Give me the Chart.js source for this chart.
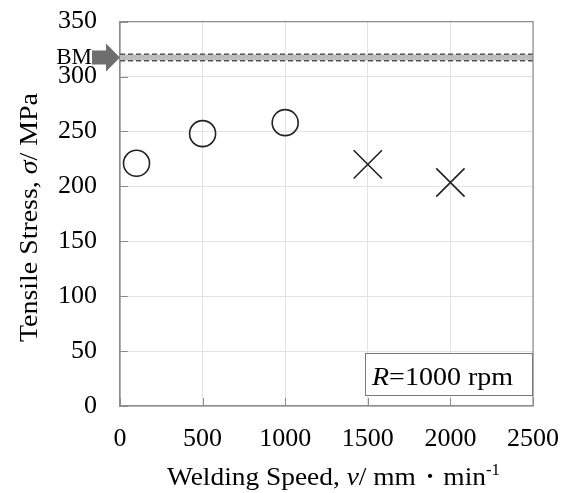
<!DOCTYPE html>
<html>
<head>
<meta charset="utf-8">
<script src="https://cdn.jsdelivr.net/npm/chart.js@4.4.1/dist/chart.umd.min.js"></script>
<style>
html,body{margin:0;padding:0;background:#fff;}
#wrap{width:565px;height:493px;position:relative;}
</style>
</head>
<body>
<div id="wrap"><canvas id="c" width="565" height="493"></canvas></div>
<script>
// ---- data ----
const circleSpeeds = [100, 500, 1000];
const circleStress = [221, 248, 258];
const crossSpeeds = [1500, 2000];
const crossStress = [220, 203.5];
const bmStress = 317.3;
const bmUpper = 320.3;
const bmLower = 314.3;
const xRange = [0, 2500];
const yRange = [0, 350];
const xStep = 500;
const yStep = 50;
const bmLabel = 'BM';
const noteLabel = ['R', '=1000 rpm'];
const yTitle = ['Tensile Stress, ', 'σ', '/ MPa'];
const xTitle = ['Welding Speed, ', 'v', '/ mm・min', '-1'];

const FONT = "'Liberation Serif', 'Times New Roman', serif";

function pts(xs, ys){ return xs.map((x,i)=>({x:x, y:ys[i]})); }
function hline(v){ return [{x:xRange[0], y:v},{x:xRange[1], y:v}]; }

// draw rich text segments [{t, f, dy}] starting at (0,0) in current transform, stretched to target width
function drawRich(ctx, segs, targetW){
  let w = 0;
  segs.forEach(s=>{ ctx.font = s.f; s.w = ctx.measureText(s.t).width; w += s.w; });
  const sx = targetW / w;
  ctx.save();
  ctx.scale(sx, 1);
  let x = 0;
  segs.forEach(s=>{ ctx.font = s.f; ctx.fillText(s.t, x, s.dy || 0); x += s.w; });
  ctx.restore();
}

const decor = {
  id: 'decor',
  afterDraw(chart){
    const ctx = chart.ctx;
    const a = chart.chartArea;
    const xs = chart.scales.x, ys = chart.scales.y;
    ctx.save();
    // top/right border
    ctx.strokeStyle = '#8c8c8c';
    ctx.lineWidth = 1.2;
    ctx.beginPath();
    ctx.moveTo(a.left, a.top); ctx.lineTo(a.right, a.top); ctx.lineTo(a.right, a.bottom);
    ctx.stroke();
    // inward tick marks
    ctx.lineWidth = 1;
    ys.ticks.forEach(t=>{
      const y = Math.round(ys.getPixelForValue(t.value))+0.5;
      ctx.beginPath(); ctx.moveTo(a.left, y); ctx.lineTo(a.left+8, y); ctx.stroke();
    });
    xs.ticks.forEach(t=>{
      const x = Math.round(xs.getPixelForValue(t.value))+0.5;
      ctx.beginPath(); ctx.moveTo(x, a.bottom); ctx.lineTo(x, a.bottom-8); ctx.stroke();
    });
    // BM arrow
    const by = ys.getPixelForValue(bmStress);
    ctx.fillStyle = '#6e6e6e';
    ctx.beginPath();
    ctx.moveTo(92, by-7); ctx.lineTo(106, by-7); ctx.lineTo(106, by-14);
    ctx.lineTo(a.left, by); ctx.lineTo(106, by+14); ctx.lineTo(106, by+7);
    ctx.lineTo(92, by+7); ctx.closePath(); ctx.fill();
    ctx.fillStyle = '#000';
    ctx.font = '23px ' + FONT;
    ctx.textAlign = 'right'; ctx.textBaseline = 'middle';
    ctx.fillText(bmLabel, 92, by);
    // note box
    const bx0 = 365, bx1 = a.right, by0 = 353, by1 = 395;
    ctx.fillStyle = '#fff';
    ctx.fillRect(bx0, by0, bx1-bx0, by1-by0);
    ctx.strokeStyle = '#777';
    ctx.lineWidth = 1;
    ctx.strokeRect(bx0+0.5, by0+0.5, bx1-bx0-1, by1-by0);
    ctx.fillStyle = '#000';
    ctx.textAlign = 'left'; ctx.textBaseline = 'alphabetic';
    ctx.save(); ctx.translate(372, 385);
    drawRich(ctx, [{t:noteLabel[0], f:'italic 26px '+FONT},{t:noteLabel[1], f:'26px '+FONT}], 141);
    ctx.restore();
    // x title
    ctx.save(); ctx.translate(167, 485);
    drawRich(ctx, [
      {t:xTitle[0], f:'26px '+FONT},
      {t:xTitle[1], f:'italic 26px '+FONT},
      {t:xTitle[2], f:'26px '+FONT},
      {t:xTitle[3], f:'16px '+FONT, dy:-10}
    ], 333);
    ctx.restore();
    // y title
    ctx.save();
    ctx.translate(37, 342);
    ctx.rotate(-Math.PI/2);
    drawRich(ctx, [
      {t:yTitle[0], f:'26px '+FONT},
      {t:yTitle[1], f:'italic 26px '+FONT},
      {t:yTitle[2], f:'26px '+FONT}
    ], 249);
    ctx.restore();
    ctx.restore();
  }
};

new Chart(document.getElementById('c'), {
  type: 'scatter',
  data: {
    datasets: [
      { data: hline(bmStress), showLine: true, borderColor: '#bdbdbd', borderWidth: 6, pointRadius: 0, order: 5 },
      { data: hline(bmUpper), showLine: true, borderColor: '#555', borderWidth: 1.6, borderDash: [5,3], pointRadius: 0, order: 4 },
      { data: hline(bmLower), showLine: true, borderColor: '#555', borderWidth: 1.6, borderDash: [5,3], pointRadius: 0, order: 4 },
      { data: pts(circleSpeeds, circleStress), pointStyle: 'circle', pointRadius: 13, pointBorderWidth: 1.6,
        borderColor: '#222', backgroundColor: 'rgba(0,0,0,0)', order: 1 },
      { data: pts(crossSpeeds, crossStress), pointStyle: 'crossRot', pointRadius: 20, pointBorderWidth: 1.6,
        borderColor: '#222', backgroundColor: 'rgba(0,0,0,0)', order: 1 }
    ]
  },
  options: {
    responsive: false,
    animation: false,
    devicePixelRatio: 1,
    layout: { padding: { left: 0, top: 20, right: 32, bottom: 0 } },
    plugins: { legend: { display: false }, tooltip: { enabled: false } },
    scales: {
      x: {
        type: 'linear', min: xRange[0], max: xRange[1],
        ticks: { stepSize: xStep, color: '#000', font: { family: FONT, size: 26 }, padding: 18, maxRotation: 0,
                 callback: v => String(v) },
        grid: { color: '#e3e3e3', lineWidth: 1, drawTicks: false },
        border: { color: '#8c8c8c', width: 1.6 },
        afterFit(s){ s.height = 87; s.paddingLeft = 0; s.paddingRight = 0; }
      },
      y: {
        type: 'linear', min: yRange[0], max: yRange[1],
        ticks: { stepSize: yStep, color: '#000', font: { family: FONT, size: 26 }, padding: 23,
                 callback: v => String(v) },
        grid: { color: '#e3e3e3', lineWidth: 1, drawTicks: false },
        border: { color: '#8c8c8c', width: 1.6 },
        afterFit(s){ s.width = 120; s.paddingTop = 0; s.paddingBottom = 0; }
      }
    }
  },
  plugins: [decor]
});
</script>
</body>
</html>
